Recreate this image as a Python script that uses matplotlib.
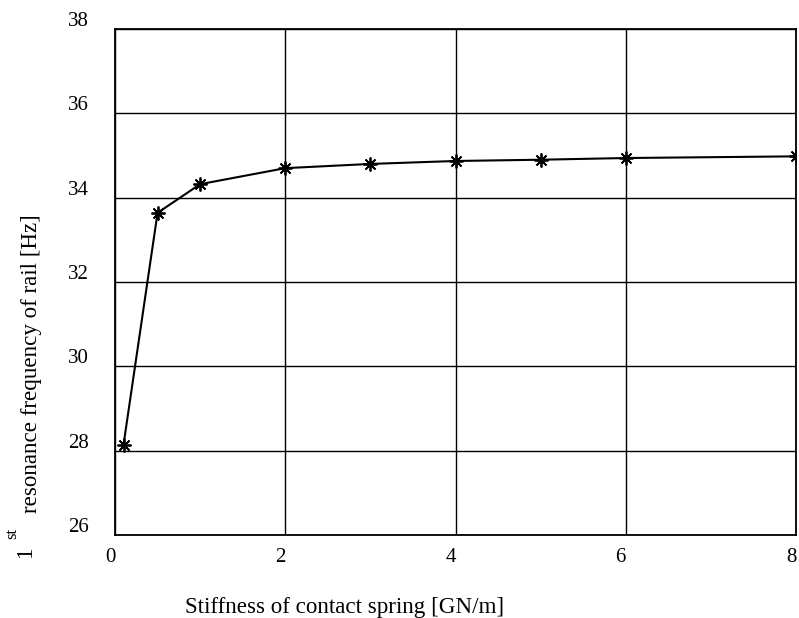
import matplotlib
matplotlib.use("Agg")
import matplotlib.pyplot as plt
import matplotlib.transforms as mtransforms

plt.rcParams['font.family'] = ['Liberation Serif', 'DejaVu Serif']

# stiffness of contact spring [GN/m] vs first resonance frequency [Hz]
rigidez = [0.1, 0.5, 1, 2, 3, 4, 5, 6, 8]
frecuencia = [28.14, 33.64, 34.32, 34.70, 34.80, 34.87, 34.90, 34.94, 34.98]
xticks = [0, 2, 4, 6, 8]
yticks = [26, 28, 30, 32, 34, 36, 38]

W, H = 799, 618
fig = plt.figure(figsize=(W / 100, H / 100), dpi=100)
ax = fig.add_axes([115 / W, 1 - 535 / H, (796 - 115) / W, (535 - 29) / H])

ax.plot(rigidez, frecuencia, color='black', lw=1.5,
        marker=(8, 2, 0), markersize=10, markeredgewidth=1.3)

ax.set_xlim(0, 8)
ax.set_ylim(26, 38)
ax.set_xticks(xticks)
ax.set_yticks(yticks)
ax.grid(True, color='black', lw=1.0)
ax.set_axisbelow(True)
for s in ax.spines.values():
    s.set_linewidth(1.3)
ax.tick_params(length=0, labelsize=15)
ax.tick_params(axis='y', pad=19)
ax.tick_params(axis='x', pad=9)

# etiquetas un poco desplazadas respecto a la rejilla
dy = mtransforms.ScaledTranslation(0, 10 / 100, fig.dpi_scale_trans)
dx = mtransforms.ScaledTranslation(-5 / 100, 0, fig.dpi_scale_trans)
for lab in ax.get_yticklabels():
    lab.set_transform(lab.get_transform() + dy)
for lab in ax.get_xticklabels():
    lab.set_transform(lab.get_transform() + dx)

fig.text(345 / W, 1 - 607 / H, 'Stiffness of contact spring [GN/m]',
         ha='center', va='center', fontsize=16.6)

fig.text(32 / W, 1 - 513 / H, 'resonance frequency of rail [Hz]',
         rotation=90, ha='center', va='bottom', fontsize=16.6)
fig.text(25 / W, 1 - 551 / H, '1', rotation=90, ha='center', va='center', fontsize=16.6)
fig.text(12 / W, 1 - 533 / H, 'st', rotation=90, ha='center', va='center', fontsize=12)

fig.savefig('out.png', dpi=100)
